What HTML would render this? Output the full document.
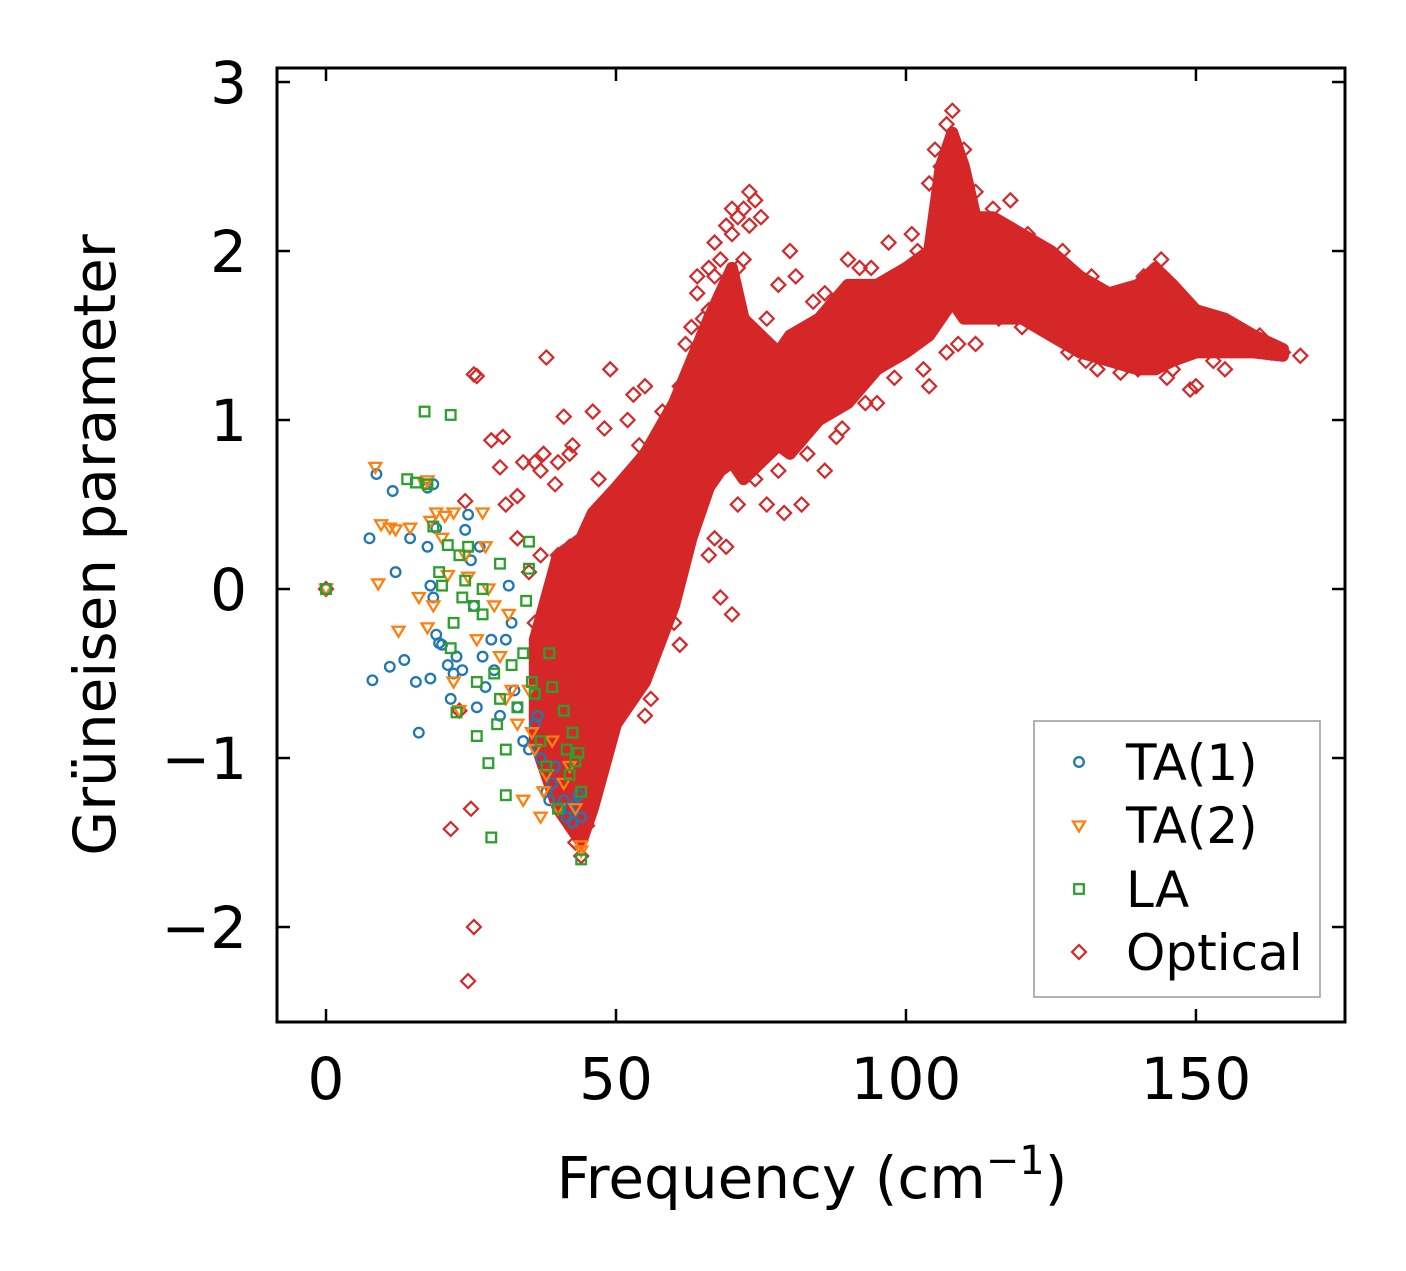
<!DOCTYPE html>
<html><head><meta charset="utf-8">
<style>
html,body{margin:0;padding:0;background:#fff;}
svg{display:block;font-family:"DejaVu Sans","Liberation Sans",sans-serif;}
</style></head>
<body>
<svg id="chart" width="1406" height="1271" viewBox="0 0 1406 1271">
<g id="marks"></g>
<g id="axes"></g>
</svg>
<script>
// ---- data ----
const xTicks = [0, 50, 100, 150];
const xTickLabels = ["0", "50", "100", "150"];
const yTicks = [-2, -1, 0, 1, 2, 3];
const yTickLabels = ["\u22122", "\u22121", "0", "1", "2", "3"];

const ta1 = [[0,0],[7.5,0.3],[8,-0.54],[8.7,0.68],[11,-0.46],[11.5,0.58],[12,0.1],[13.5,-0.42],[14.5,0.3],[15.5,-0.55],[16,-0.85],[17.5,0.25],[17.5,0.6],[18,0.02],[18,-0.53],[18.5,0.62],[18.5,-0.05],[19,0.36],[19,-0.27],[19.5,-0.32],[20,-0.33],[21,-0.45],[21.5,-0.65],[22,-0.5],[22.5,-0.4],[23.5,-0.48],[24,0.35],[24.5,0.44],[25,0.17],[25.5,-0.1],[26,-0.7],[26.5,0.25],[27,-0.4],[27.5,-0.58],[28.5,-0.3],[29,-0.48],[30,-0.75],[31,-0.3],[31.5,0.02],[32,-0.2],[32.5,-0.6],[33,-0.7],[34,-0.9],[35,-0.95],[36,-0.8],[36.5,-0.75],[37,-1.0],[38,-1.2],[38.5,-1.25],[39,-1.15],[39.5,-1.05],[40,-1.3],[41,-1.25],[41.5,-1.35],[42,-1.3],[42.5,-1.38],[43,-1.28],[43.5,-1.22],[44,-1.35]];
const ta2 = [[0,0],[8.5,0.72],[9,0.03],[9.5,0.38],[11,0.36],[12,0.35],[12.5,-0.25],[14.5,0.36],[16,-0.05],[17,0.62],[17.5,0.64],[17.5,-0.23],[18,0.4],[18.5,-0.1],[19,0.45],[20,0.3],[20.5,0.43],[21,0.08],[22,-0.55],[22,0.45],[23,-0.72],[24,0.2],[24.5,0.07],[26,-0.3],[27,0.45],[27.5,0.25],[28,0.0],[29,-0.1],[30,-0.4],[31,-0.65],[31.5,-0.15],[32,-0.6],[33,-0.8],[34,-1.25],[35,-0.6],[35.5,-0.85],[36,-0.95],[37,-1.35],[37.5,-1.2],[38,-1.1],[39,-0.9],[40,-1.3],[41,-1.15],[42,-1.05],[43,-1.3],[44,-1.52],[44,-1.55]];
const la = [[0,0],[14,0.65],[15.5,0.63],[17,1.05],[17.5,0.62],[18.5,0.37],[19.5,0.1],[20,0.02],[21,0.26],[21.5,1.03],[21.5,-0.35],[22,-0.2],[22.5,-0.73],[23,0.2],[23.5,-0.05],[24,0.05],[24.5,0.25],[25.5,-0.1],[26,-0.55],[26,-0.87],[27,-0.15],[27,0.0],[28,-1.03],[28.5,-1.47],[29,-0.5],[29.5,-0.8],[30,0.15],[30,-0.65],[31,-0.95],[31,-1.22],[32,-0.45],[33,-0.7],[34,-0.38],[34.5,-0.07],[35,0.28],[35,0.12],[35.5,-0.55],[36,-0.62],[37,-0.9],[38,-1.05],[38.5,-0.38],[39,-0.58],[40,-1.3],[41,-0.72],[41.5,-0.95],[42,-1.1],[42.5,-0.85],[43,-1.02],[43.5,-0.97],[44,-1.2],[44,-1.6]];
const optical = [[0,0],[21.5,-1.42],[23,-0.72],[24,0.52],[24.5,-2.32],[25,-1.3],[25.5,-2.0],[25.5,1.27],[26,1.26],[28.5,0.88],[30,0.72],[30.5,0.9],[31,0.5],[33,0.55],[34,0.75],[36,0.75],[37,0.7],[37.5,0.8],[38,1.37],[39.5,0.62],[40,0.75],[41,1.02],[42,0.8],[42.5,0.85],[46,1.05],[47,0.65],[48,0.95],[48.5,0.45],[49,1.3],[52,1.0],[53,1.15],[54,0.85],[55,1.2],[56,-0.65],[55,-0.75],[58,1.05],[60,-0.2],[61,-0.33],[62,1.45],[63,1.55],[64,1.85],[66,1.9],[67,2.05],[68,1.7],[69,2.15],[70,2.25],[71,2.2],[72,2.25],[73,2.35],[74,2.3],[75,2.2],[67,0.3],[68,-0.05],[70,-0.15],[69,0.25],[71,0.5],[72,0.75],[74,0.65],[77,0.9],[78,1.8],[79,0.45],[80,2.0],[81,1.85],[82,0.5],[84,1.7],[88,0.9],[90,1.95],[92,1.9],[95,1.1],[97,2.05],[100,1.85],[101,2.1],[104,1.2],[107,1.4],[109,1.45],[116,1.6],[118,2.3],[124,1.55],[133,1.3],[137,1.28],[145,1.25],[149,1.18],[153,1.35],[158,1.45],[163,1.4],[168,1.38],[108,2.83],[106,2.5],[110,2.6],[33,0.3],[35,0.1],[36,-0.2],[37,0.2],[38,-0.5],[39,-0.9],[41,-1.1],[43,-1.5],[44,-1.58],[45,-1.4],[46,-1.0],[47,-0.6],[49,-0.4],[51,-0.6],[53,-0.3],[57,-0.3],[59,0.9],[61,1.2],[65,1.3],[66,0.2],[76,0.5],[78,0.7],[83,0.8],[86,0.7],[89,0.95],[93,1.1],[98,1.25],[103,1.3],[112,1.45],[120,1.55],[128,1.4],[131,1.35],[140,1.3],[146,1.3],[150,1.2],[155,1.3],[160,1.45],[165,1.4],[112,2.35],[115,2.25],[121,2.1],[127,2.0],[132,1.85],[141,1.85],[144,1.95],[148,1.7],[156,1.55],[161,1.5],[104,2.4],[105,2.6],[107,2.75],[102,2.0],[94,1.9],[86,1.75],[76,1.6],[66,1.65],[62,1.0],[58,0.8],[55,0.7],[50,0.55],[47,0.4],[45,0.35],[42,0.25],[40,0.2],[70,2.1],[71,1.9],[73,2.15],[72,1.95],[64,1.75],[65,1.6],[67,1.85],[68,1.95]];
// dense core envelope of optical branch (x, upper y, lower y)
const coreX = [36,40,44,46,50,55,60,63,66,68,70,72,75,78,80,85,90,95,100,104,106,108,110,112,115,120,125,130,135,140,143,146,150,155,160,165];
const coreUpper = [-0.3,0.2,0.3,0.45,0.6,0.8,1.1,1.35,1.6,1.75,1.9,1.6,1.5,1.4,1.5,1.6,1.8,1.8,1.9,2.0,2.5,2.7,2.5,2.2,2.2,2.1,2.0,1.85,1.75,1.8,1.9,1.8,1.65,1.6,1.5,1.42];
const coreLower = [-0.9,-1.3,-1.5,-1.3,-0.8,-0.55,-0.1,0.3,0.6,0.7,0.75,0.65,0.75,0.85,0.8,1.0,1.1,1.3,1.4,1.5,1.6,1.7,1.6,1.6,1.6,1.6,1.5,1.4,1.35,1.3,1.3,1.35,1.4,1.4,1.4,1.38];

// ---- axes functions ----
const L=277,R=1345,T=68,B=1022;
const xMin=-8.45,xMax=175.7,yMin=-2.562,yMax=3.083;
const sx=v=>L+(v-xMin)/(xMax-xMin)*(R-L);
const sy=v=>B-(v-yMin)/(yMax-yMin)*(B-T);
const NS="http://www.w3.org/2000/svg";
const marks=document.getElementById('marks');
const axes=document.getElementById('axes');
function mk(tag,attrs,parent){const e=document.createElementNS(NS,tag);for(const k in attrs)e.setAttribute(k,attrs[k]);parent.appendChild(e);return e;}

const RED="#d62728",BLUE="#1f77b4",ORANGE="#ff7f0e",GREEN="#2ca02c";
let pts=[];
for(let i=0;i<coreX.length;i++)pts.push(sx(coreX[i])+","+sy(coreUpper[i]));
for(let i=coreX.length-1;i>=0;i--)pts.push(sx(coreX[i])+","+sy(coreLower[i]));
const core=mk('polygon',{points:pts.join(' '),fill:RED,stroke:RED,'stroke-width':12,'stroke-linejoin':'round'},marks);



function diamond(x,y,p){const cx=sx(x),cy=sy(y),r=7;return mk('polygon',{points:`${cx},${cy-r} ${cx+r},${cy} ${cx},${cy+r} ${cx-r},${cy}`,fill:'none',stroke:RED,'stroke-width':2.2},p);}
function circle(x,y,p,c){return mk('circle',{cx:sx(x),cy:sy(y),r:4.8,fill:'none',stroke:c||BLUE,'stroke-width':2.3},p);}
function tri(x,y,p,c){const cx=sx(x),cy=sy(y);return mk('polygon',{points:`${cx-6},${cy-4.5} ${cx+6},${cy-4.5} ${cx},${cy+5.5}`,fill:'none',stroke:c||ORANGE,'stroke-width':2.3},p);}
function square(x,y,p,c){const cx=sx(x),cy=sy(y);return mk('rect',{x:cx-4.8,y:cy-4.8,width:9.6,height:9.6,fill:'none',stroke:c||GREEN,'stroke-width':2.3},p);}

optical.forEach(d=>{const e=diamond(d[0],d[1],marks);

});
ta1.forEach(d=>{const e=circle(d[0],d[1],marks);

});
ta2.forEach(d=>{const e=tri(d[0],d[1],marks);

});
la.forEach(d=>{const e=square(d[0],d[1],marks);

});

const fr=mk('rect',{x:L,y:T,width:R-L,height:B-T,fill:'none',stroke:'#000','stroke-width':3},axes);


xTicks.forEach((v,i)=>{const x=sx(v);
mk('line',{x1:x,y1:B,x2:x,y2:B-13,stroke:'#000','stroke-width':2.5},axes);
mk('line',{x1:x,y1:T,x2:x,y2:T+13,stroke:'#000','stroke-width':2.5},axes);
const t=mk('text',{x:x,y:1099,'text-anchor':'middle','font-size':58},axes);t.textContent=xTickLabels[i];

});
yTicks.forEach((v,i)=>{const y=sy(v);
mk('line',{x1:L,y1:y,x2:L+13,y2:y,stroke:'#000','stroke-width':2.5},axes);
mk('line',{x1:R,y1:y,x2:R-13,y2:y,stroke:'#000','stroke-width':2.5},axes);
const t=mk('text',{x:247,y:y+21,'text-anchor':'end','font-size':58},axes);t.textContent=yTickLabels[i];

});
</script>
<svg width="1406" height="1271" style="position:absolute;left:0;top:0" font-family="DejaVu Sans, Liberation Sans, sans-serif">
<text x="812" y="1198" text-anchor="middle" font-size="58">Frequency (cm<tspan dy="-24" font-size="40">−1</tspan><tspan dy="24">)</tspan></text>
<text transform="translate(115,545) rotate(-90)" text-anchor="middle" font-size="58">Grüneisen parameter</text>
<g>
<rect x="1034" y="721" width="286" height="276" fill="#fff" fill-opacity="0.8" stroke="#999" stroke-width="1.5"/>
<g><circle cx="1079" cy="762" r="4.8" fill="none" stroke="#1f77b4" stroke-width="2.3"/><text x="1126" y="780" font-size="50">TA(1)</text></g>
<g><polygon points="1073,821.5 1085,821.5 1079,831.5" fill="none" stroke="#ff7f0e" stroke-width="2.3"/><text x="1126" y="843" font-size="50">TA(2)</text></g>
<g><rect x="1074.2" y="884.2" width="9.6" height="9.6" fill="none" stroke="#2ca02c" stroke-width="2.3"/><text x="1126" y="907" font-size="50">LA</text></g>
<g><polygon points="1079,945 1086,952 1079,959 1072,952" fill="none" stroke="#d62728" stroke-width="2.2"/><text x="1126" y="970" font-size="50">Optical</text></g>
</g>
</svg>
</body></html>
